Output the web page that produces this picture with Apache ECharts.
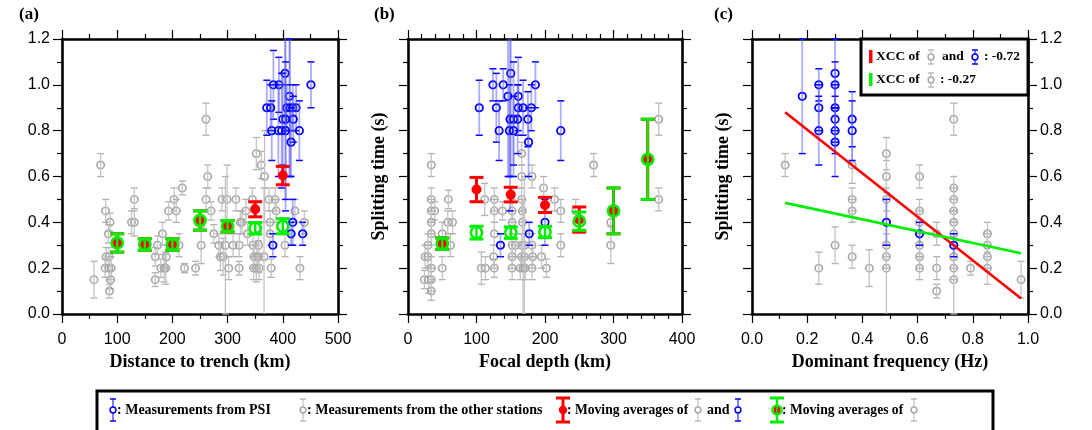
<!DOCTYPE html>
<html><head><meta charset="utf-8">
<script src="https://cdn.jsdelivr.net/npm/echarts@6/dist/echarts.min.js"></script>
<style>html,body{margin:0;padding:0;background:#fff}#c{width:1092px;height:430px}</style>
</head><body><div id="c"></div>
<script>
// ---------- data: [x, splitting time (s), error (s)] ----------
const grayA = [[58,0.15,0.08],[70,0.65,0.05],[79,0.45,0.05],[87,0.40,0.04],[84,0.35,0.04],[80,0.25,0.04],[85,0.25,0.04],[78,0.20,0.04],[85,0.20,0.05],[89,0.20,0.05],[88,0.15,0.04],[86,0.10,0.03],
[126,0.40,0.05],[131,0.40,0.06],[131,0.50,0.05],
[169,0.25,0.04],[169,0.15,0.03],[173,0.30,0.04],[182,0.35,0.05],[179,0.20,0.04],[185,0.20,0.06],[188,0.20,0.07],[189,0.25,0.05],[193,0.45,0.04],[203,0.50,0.05],[207,0.45,0.05],[212,0.30,0.05],[218,0.55,0.03],[222,0.20,0.02],
[242,0.20,0.03],[252,0.30,0.08],[261,0.85,0.07],[264,0.60,0.05],[261,0.50,0.05],[270,0.45,0.04],[275,0.35,0.04],[284,0.30,0.05],[287,0.25,0.06],[292,0.25,0.08],[290,0.50,0.05],[299,0.50,0.15],[296,0.30,0.30],[302,0.20,0.05],[310,0.30,0.05],[315,0.50,0.05],[321,0.30,0.05],[321,0.20,0.03],[323,0.40,0.05],[326,0.40,0.05],[333,0.45,0.05],[336,0.35,0.05],[345,0.50,0.05],[346,0.30,0.05],[356,0.30,0.06],[348,0.25,0.05],[353,0.25,0.05],[356,0.25,0.07],[347,0.20,0.05],[352,0.20,0.06],[357,0.20,0.05],[352,0.70,0.07],[361,0.65,0.06],[367,0.60,0.20],[366,0.25,0.30],[379,0.20,0.04],[375,0.50,0.05],[386,0.50,0.05],[388,0.45,0.05],[377,0.40,0.05],[377,0.35,0.05],[404,0.30,0.05],[422,0.45,0.05],[439,0.40,0.05],[431,0.20,0.05]];
const blueA = [[451,1.00,0.10],[404,1.05,0.25],[383,1.00,0.15],[393,1.00,0.12],[371,0.90,0.12],[378,0.90,0.10],[412,0.95,0.35],[407,0.90,0.10],[413,0.90,0.30],[418,0.90,0.10],[424,0.90,0.10],[400,0.85,0.20],[405,0.85,0.40],[419,0.85,0.10],[380,0.80,0.13],[392,0.80,0.20],[398,0.80,0.25],[405,0.80,0.30],[430,0.80,0.13],[415,0.75,0.15],[382,0.30,0.05],[418,0.40,0.10],[415,0.35,0.05],[436,0.35,0.05]];
const redA = [[100,0.310,0.040],[150,0.303,0.025],[200,0.303,0.025],[250,0.408,0.042],[300,0.383,0.025],[350,0.457,0.033],[400,0.604,0.040]];
const greenA = [[100,0.310,0.040],[150,0.303,0.025],[200,0.303,0.025],[250,0.408,0.042],[300,0.383,0.025],[350,0.374,0.025],[400,0.383,0.033]];

const grayB = [[34,0.65,0.05],[34,0.50,0.05],[34,0.45,0.05],[39,0.45,0.04],[34,0.40,0.05],[34,0.35,0.05],[29,0.30,0.05],[25,0.25,0.05],[29,0.25,0.05],[34,0.20,0.05],[24,0.15,0.04],[30,0.15,0.06],[34,0.15,0.05],[34,0.10,0.04],
[50,0.35,0.05],[50,0.20,0.05],[59,0.50,0.04],[58,0.40,0.05],[65,0.40,0.05],[62,0.30,0.05],
[107,0.20,0.07],[113,0.20,0.05],[112,0.50,0.07],[126,0.50,0.05],[126,0.45,0.05],[126,0.35,0.05],[125,0.25,0.05],[126,0.20,0.04],[138,0.45,0.04],[152,0.45,0.05],[152,0.40,0.05],[152,0.30,0.05],[157,0.30,0.05],[152,0.25,0.05],[152,0.20,0.05],[166,0.70,0.05],[166,0.60,0.05],[166,0.50,0.05],[167,0.45,0.05],[167,0.40,0.05],[166,0.30,0.05],[170,0.30,0.05],[166,0.25,0.06],[170,0.25,0.35],[164,0.20,0.05],[168,0.20,0.30],[171,0.20,0.05],[181,0.60,0.05],[181,0.30,0.05],[182,0.25,0.05],[181,0.20,0.05],[195,0.25,0.05],[198,0.55,0.05],[202,0.20,0.04],[214,0.50,0.05],[223,0.45,0.05],[223,0.30,0.05],[245,0.45,0.05],[271,0.65,0.05],[296,0.40,0.05],[296,0.30,0.08],[366,0.85,0.07],[366,0.50,0.05]];
const blueB = [[104,0.90,0.12],[124,1.00,0.07],[139,1.00,0.07],[150,1.05,0.45],[186,1.00,0.10],[129,0.90,0.15],[146,0.95,0.35],[161,0.95,0.17],[161,0.90,0.10],[168,0.90,0.12],[180,0.90,0.10],[149,0.85,0.40],[154,0.85,0.25],[160,0.85,0.15],[175,0.85,0.12],[133,0.80,0.13],[148,0.80,0.20],[154,0.80,0.15],[223,0.80,0.13],[176,0.75,0.15],[200,0.40,0.10],[177,0.35,0.05],[135,0.30,0.05]];
const redB = [[50,0.307,0.025],[100,0.543,0.053],[150,0.521,0.032],[200,0.476,0.033],[250,0.412,0.055],[300,0.450,0.100],[350,0.675,0.175]];
const greenB = [[50,0.307,0.025],[100,0.355,0.028],[150,0.355,0.025],[200,0.358,0.025],[250,0.405,0.040],[300,0.450,0.100],[350,0.675,0.175]];

const grayC = [[0.120,0.65,0.05],[0.242,0.20,0.07],[0.301,0.30,0.08],[0.363,0.65,0.08],[0.363,0.50,0.05],[0.363,0.45,0.05],[0.363,0.25,0.05],[0.425,0.20,0.08],[0.487,0.70,0.07],[0.487,0.60,0.07],[0.487,0.50,0.05],[0.487,0.30,0.05],[0.487,0.25,0.05],[0.487,0.20,0.30],[0.607,0.60,0.05],[0.607,0.45,0.05],[0.607,0.40,0.05],[0.607,0.30,0.05],[0.607,0.25,0.05],[0.607,0.20,0.05],[0.669,0.35,0.05],[0.669,0.20,0.05],[0.669,0.10,0.03],[0.731,0.85,0.07],[0.731,0.55,0.05],[0.731,0.50,0.05],[0.731,0.45,0.05],[0.731,0.40,0.05],[0.731,0.35,0.05],[0.731,0.25,0.05],[0.731,0.20,0.05],[0.731,0.15,0.15],[0.792,0.20,0.03],[0.853,0.35,0.05],[0.853,0.30,0.05],[0.853,0.25,0.05],[0.853,0.20,0.07],[0.975,0.15,0.08]];
const blueC = [[0.182,0.95,0.25],[0.242,1.00,0.07],[0.242,0.90,0.10],[0.242,0.80,0.15],[0.301,1.05,0.15],[0.301,1.00,0.10],[0.301,0.90,0.10],[0.301,0.85,0.10],[0.301,0.80,0.10],[0.301,0.75,0.15],[0.363,0.85,0.12],[0.363,0.80,0.13],[0.487,0.40,0.10],[0.607,0.35,0.05],[0.731,0.30,0.05]];
const fitAllC = [[0.12,0.880],[0.975,0.068]];
const fitGrayC = [[0.12,0.485],[0.975,0.265]];

const xNames = ['Distance to trench (km)','Focal depth (km)','Dominant frequency (Hz)'];
const yName = 'Splitting time (s)';
const panelLabels = ['(a)','(b)','(c)'];
const xccAll = '-0.72', xccGray = '-0.27';

// ---------- layout ----------
const grids = [{left:62,top:39,width:276,height:275},{left:408,top:39,width:274,height:275},{left:752,top:39,width:276,height:275}];
const xRanges = [{min:0,max:500,interval:100,minor:2,fmt:v=>String(v)},{min:0,max:400,interval:100,minor:5,fmt:v=>String(v)},{min:0,max:1,interval:0.2,minor:2,fmt:v=>v.toFixed(1)}];
const YMAX = 1.2;
const SERIF = '"Liberation Serif","Times New Roman",serif';
const SANS = '"Liberation Sans",Arial,sans-serif';

const xAxes = [], yAxes = [];
grids.forEach((g,i)=>{
  const r = xRanges[i];
  const base = {type:'value',gridIndex:i,min:r.min,max:r.max,interval:r.interval,splitLine:{show:false},
    axisLine:{show:true,onZero:false,lineStyle:{color:'#000',width:2.6}},
    axisTick:{show:true,inside:false,length:9,lineStyle:{color:'#000',width:1.2}},
    minorTick:{show:true,splitNumber:r.minor,length:5,lineStyle:{color:'#000',width:1.2}}};
  xAxes.push(Object.assign({},base,{position:'bottom',name:xNames[i],nameLocation:'middle',nameGap:34,
    nameTextStyle:{fontFamily:SERIF,fontWeight:'bold',fontSize:18,color:'#000'},
    axisLabel:{show:true,margin:18,fontFamily:SANS,fontSize:16,color:'#000',formatter:r.fmt}}));
  xAxes.push(Object.assign({},base,{position:'top',axisLabel:{show:false}}));
  const yb = {type:'value',gridIndex:i,min:0,max:YMAX,interval:0.2,splitLine:{show:false},
    axisLine:{show:true,onZero:false,lineStyle:{color:'#000',width:2.6}},
    axisTick:{show:true,inside:false,length:9,lineStyle:{color:'#000',width:1.2}},
    minorTick:{show:true,splitNumber:2,length:5,lineStyle:{color:'#000',width:1.2}}};
  const lab = {show:true,margin:12,fontFamily:SANS,fontSize:16,color:'#000',formatter:v=>v.toFixed(1)};
  yAxes.push(Object.assign({},yb,{position:'left',axisLabel:i===0?lab:{show:false},
    name:i===0?'':yName,nameLocation:'middle',nameGap:20,nameRotate:90,
    nameTextStyle:{fontFamily:SERIF,fontWeight:'bold',fontSize:18,color:'#000'}}));
  yAxes.push(Object.assign({},yb,{position:'right',axisLabel:i===2?lab:{show:false}}));
});

// ---------- error-bar renderer ----------
function errSeries(data, gi, st){
  return {type:'custom',xAxisIndex:gi*2,yAxisIndex:gi*2,data:data,encode:{x:0,y:1},silent:true,z:st.z||2,
    renderItem:function(params, api){
      const x=api.value(0), y=api.value(1), e=api.value(2);
      const hiV=y+e, loV=y-e;
      const hi=Math.min(hiV,YMAX), lo=Math.max(loV,0);
      const p=api.coord([x,y]), pt=api.coord([x,hi]), pb=api.coord([x,lo]);
      const ch=[];
      const w=st.capW/2;
      const line={type:'line',shape:{x1:p[0],y1:pt[1],x2:p[0],y2:pb[1]},style:{stroke:st.barColor,lineWidth:st.barW}};
      if(hiV<=YMAX) ch.push({type:'line',shape:{x1:p[0]-w,y1:pt[1],x2:p[0]+w,y2:pt[1]},style:{stroke:st.capColor,lineWidth:st.capLW}});
      if(loV>=0) ch.push({type:'line',shape:{x1:p[0]-w,y1:pb[1],x2:p[0]+w,y2:pb[1]},style:{stroke:st.capColor,lineWidth:st.capLW}});
      const circ={type:'circle',shape:{cx:p[0],cy:p[1],r:st.r},style:{fill:st.fill||'transparent',stroke:st.stroke||null,lineWidth:st.lw||0}};
      if(st.lineOnTop){ch.push(circ);ch.push(line);} else {ch.push(line);ch.push(circ);}
      return {type:'group',children:ch};
    }};
}
const GRAY = {r:3.7,stroke:'#a8a8a8',lw:1.6,barColor:'#c4c4c4',barW:1.3,capColor:'#b0b0b0',capW:7,capLW:1.3,lineOnTop:true,z:2};
const BLUE = {r:3.7,stroke:'#0000ff',lw:1.8,barColor:'rgba(90,90,255,0.5)',barW:1.8,capColor:'#0000ff',capW:7,capLW:1.5,lineOnTop:true,z:3};
const RED = {r:5,fill:'#ff0000',barColor:'#ff0000',barW:3,capColor:'#ff0000',capW:14,capLW:3,z:4};
const GREEN = {r:5.6,stroke:'#00ee00',lw:2.6,barColor:'#00ee00',barW:2.4,capColor:'#00ee00',capW:14,capLW:3,lineOnTop:true,z:5};

const series = [
  errSeries(grayA,0,GRAY),errSeries(blueA,0,BLUE),errSeries(redA,0,RED),errSeries(greenA,0,GREEN),
  errSeries(grayB,1,GRAY),errSeries(blueB,1,BLUE),errSeries(redB,1,RED),errSeries(greenB,1,GREEN),
  errSeries(grayC,2,GRAY),errSeries(blueC,2,BLUE),
  {type:'line',xAxisIndex:4,yAxisIndex:4,data:fitAllC,showSymbol:false,silent:true,z:6,lineStyle:{color:'#ff0000',width:2.6}},
  {type:'line',xAxisIndex:4,yAxisIndex:4,data:fitGrayC,showSymbol:false,silent:true,z:6,lineStyle:{color:'#00ee00',width:2.6}}
];

// ---------- legend symbols (graphic) ----------
const ZL = 120;
function sym(kind, cx, cy, h){
  const st = {gray:GRAY,blue:BLUE,red:RED,green:GREEN}[kind];
  const w=(kind==='gray'||kind==='blue')?3:7, out=[];
  const capLW = st.capLW;
  out.push({type:'line',z:ZL,shape:{x1:cx,y1:cy-h,x2:cx,y2:cy+h},style:{stroke:kind==='blue'?'#7070ff':st.barColor,lineWidth:st.barW}});
  out.push({type:'line',z:ZL,shape:{x1:cx-w,y1:cy-h,x2:cx+w,y2:cy-h},style:{stroke:st.capColor,lineWidth:capLW}});
  out.push({type:'line',z:ZL,shape:{x1:cx-w,y1:cy+h,x2:cx+w,y2:cy+h},style:{stroke:st.capColor,lineWidth:capLW}});
  if(kind==='green'){
    out.push({type:'circle',z:ZL+1,shape:{cx:cx,cy:cy,r:3.4},style:{fill:'#ff0000'}});
    out.push({type:'circle',z:ZL+2,shape:{cx:cx,cy:cy,r:4.6},style:{fill:'transparent',stroke:'#00ee00',lineWidth:2.4}});
    out.push({type:'line',z:ZL+3,shape:{x1:cx,y1:cy-3,x2:cx,y2:cy+3},style:{stroke:'#00ee00',lineWidth:1.5}});
  } else if(kind==='red'){
    out.push({type:'circle',z:ZL+1,shape:{cx:cx,cy:cy,r:4.2},style:{fill:'#ff0000'}});
  } else {
    out.push({type:'circle',z:ZL+1,shape:{cx:cx,cy:cy,r:2.9},style:{fill:'#fff',stroke:st.stroke,lineWidth:1.5}});
  }
  return out;
}
function txt(s,x,y,size){
  return {type:'text',x:x,y:y,z:ZL,style:{text:s,fontFamily:SERIF,fontWeight:'bold',fontSize:size,fill:'#000',verticalAlign:'middle',align:'left'}};
}
const LY = 410;
const graphic = [
  {type:'text',left:19,top:6,style:{text:panelLabels[0],fontFamily:SERIF,fontWeight:'bold',fontSize:17,fill:'#000'}},
  {type:'text',left:374,top:6,style:{text:panelLabels[1],fontFamily:SERIF,fontWeight:'bold',fontSize:17,fill:'#000'}},
  {type:'text',left:714,top:6,style:{text:panelLabels[2],fontFamily:SERIF,fontWeight:'bold',fontSize:17,fill:'#000'}},
  {type:'rect',z:ZL-1,shape:{x:97,y:391,width:896,height:50},style:{fill:'#fff',stroke:'#000',lineWidth:3}},
  ...sym('blue',113,LY,11), txt(': Measurements from PSI',117,LY,14),
  ...sym('gray',303,LY,11), txt(': Measurements from the other stations',307,LY,14),
  ...sym('red',563,LY,12), txt(': Moving averages of',567,LY,13.6), ...sym('gray',698,LY,11), txt('and',707,LY,14), ...sym('blue',738,LY,11),
  ...sym('green',777,LY,12), txt(': Moving averages of',782,LY,13.6), ...sym('gray',914,LY,11),
  {type:'rect',z:ZL-1,shape:{x:861,y:39,width:167,height:56},style:{fill:'#fff',stroke:'#000',lineWidth:3}},
  {type:'rect',z:ZL,shape:{x:869,y:50,width:3.5,height:13},style:{fill:'#ff0000'}},
  txt('XCC of',876,57,13.5), ...sym('gray',931,57,7), txt('and',942,57,13.5), ...sym('blue',975,57,7), txt(': '+xccAll,984,57,13.5),
  {type:'rect',z:ZL,shape:{x:869,y:73,width:3.5,height:13},style:{fill:'#00ee00'}},
  txt('XCC of',876,80,13.5), ...sym('gray',931,80,7), txt(': '+xccGray,940,80,13.5)
];

const chart = echarts.init(document.getElementById('c'),null,{renderer:'canvas'});
chart.setOption({animation:false,backgroundColor:'#fff',grid:grids,xAxis:xAxes,yAxis:yAxes,series:series,graphic:graphic});
</script></body></html>
